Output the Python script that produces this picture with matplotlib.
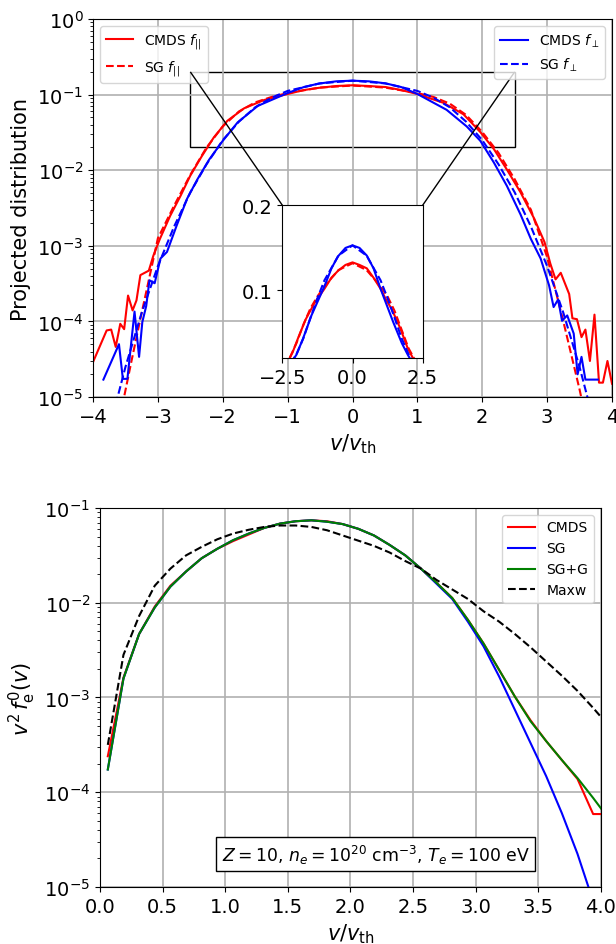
import numpy as np
import matplotlib
matplotlib.use('Agg')
import matplotlib.pyplot as plt
from mpl_toolkits.axes_grid1.inset_locator import mark_inset

# ---- top panel: projected distributions ----
x_par = [-4.0, -3.79, -3.72, -3.65, -3.58, -3.52, -3.46, -3.39, -3.33, -3.27, -3.14, -3.07,
         -2.97, -2.81, -2.65, -2.50, -2.32, -2.14, -1.93, -1.67, -1.36, -1.0, -0.75, -0.52,
         -0.25, 0.0, 0.25, 0.51, 0.75, 1.0, 1.2, 1.40, 1.71, 1.97, 2.18, 2.38, 2.59, 2.80,
         2.96, 3.05, 3.13, 3.21, 3.34, 3.39, 3.46, 3.53, 3.59, 3.66, 3.73, 3.80, 3.86, 3.93, 4.0]
f_par = [2.9e-5, 7.6e-5, 7.8e-5, 4.6e-5, 9.3e-5, 7.9e-5, 2.2e-4, 1.4e-4, 1.9e-4, 4.1e-4, 4.7e-4, 7.4e-4,
         1.23e-3, 2.5e-3, 4.6e-3, 8.5e-3, 1.55e-2, 2.7e-2, 4.5e-2, 6.6e-2, 8.5e-2, 0.102, 0.115, 0.123,
         0.130, 0.133, 0.130, 0.126, 0.115, 0.102, 0.089, 7.8e-2, 5.5e-2, 3.2e-2, 1.9e-2, 1.02e-2, 5.1e-3, 2.3e-3,
         1.12e-3, 5.8e-4, 3.6e-4, 4.4e-4, 2.3e-4, 1.1e-4, 1.07e-4, 6.2e-5, 7.8e-5, 3.0e-5, 1.23e-4, 1.55e-5, 1.55e-5, 3.0e-5, 1.5e-5]

x_perp = [-3.84, -3.60, -3.54, -3.47, -3.36, -3.29, -3.24, -3.18, -3.13, -3.05, -2.96, -2.86,
          -2.71, -2.55, -2.39, -2.21, -2.0, -1.77, -1.46, -1.0, -0.75, -0.52, -0.25, 0.0, 0.25,
          0.51, 0.75, 1.0, 1.45, 1.76, 1.97, 2.18, 2.38, 2.59, 2.75, 2.90, 3.03, 3.10, 3.17,
          3.23, 3.31, 3.41, 3.47, 3.53, 3.59, 3.78]
f_perp = [1.7e-5, 5.0e-5, 1.74e-5, 1.74e-5, 1.35e-4, 3.4e-5, 9.8e-5, 1.6e-4, 3.5e-4, 3.2e-4, 6.8e-4, 8.3e-4,
          1.86e-3, 4.2e-3, 7.6e-3, 1.38e-2, 2.45e-2, 4.3e-2, 7.1e-2, 0.105, 0.126, 0.140, 0.150, 0.153, 0.150,
          0.141, 0.126, 0.102, 6.3e-2, 3.8e-2, 2.45e-2, 1.26e-2, 6.2e-3, 2.6e-3, 1.23e-3, 6.8e-4, 3.0e-4, 1.55e-4, 1.95e-4,
          1.02e-4, 1.2e-4, 6.9e-5, 2.0e-5, 3.4e-5, 1.7e-5, 1.7e-5]

x_sg_par = [-3.55, -3.40, -3.25, -3.0, -2.75, -2.5, -2.25, -2.0, -1.75, -1.5, -1.25, -1.0, -0.5, 0.0,
            0.5, 1.0, 1.25, 1.5, 1.75, 2.0, 2.25, 2.5, 2.75, 3.0, 3.25, 3.5, 3.6]
sg_par = [7.6e-6, 3.2e-5, 1.3e-4, 1.26e-3, 3.4e-3, 8.7e-3, 2.0e-2, 3.8e-2, 6.0e-2, 7.9e-2, 9.3e-2, 0.105, 0.124, 0.132,
          0.124, 0.105, 0.093, 0.076, 0.054, 0.032, 0.017, 7.6e-3, 3.0e-3, 7.1e-4, 1.0e-4, 1.26e-5, 5e-6]

x_sg_perp = [-3.65, -3.5, -3.25, -3.0, -2.75, -2.5, -2.25, -2.0, -1.75, -1.5, -1.25, -1.0, -0.5, 0.0,
             0.5, 1.0, 1.25, 1.5, 1.75, 2.0, 2.25, 2.5, 2.75, 3.0, 3.25, 3.5, 3.65]
sg_perp = [8e-6, 2.5e-5, 1.3e-4, 5.4e-4, 1.8e-3, 5.1e-3, 1.2e-2, 2.5e-2, 4.4e-2, 6.8e-2, 9.1e-2, 0.112, 0.141, 0.153,
           0.141, 0.112, 0.091, 0.068, 0.044, 0.025, 1.2e-2, 5.1e-3, 1.8e-3, 5.4e-4, 1.3e-4, 2.5e-5, 8e-6]

# ---- bottom panel: v^2 f_e^0(v) (log10 values) ----
v_bins = [0.0625, 0.1875, 0.3125, 0.4375, 0.5625, 0.6875, 0.8125, 0.9375, 1.0625, 1.1875, 1.3125,
          1.4375, 1.5625, 1.6875, 1.8125, 1.9375, 2.0625, 2.1875, 2.3125, 2.4375, 2.5625, 2.6875,
          2.8125, 2.9375, 3.0625, 3.1875, 3.3125, 3.4375, 3.5625, 3.6875, 3.8125, 3.9375, 4.0625]
log_sgg = [-3.76, -2.80, -2.33, -2.05, -1.83, -1.67, -1.53, -1.43, -1.34, -1.27, -1.21,
           -1.165, -1.14, -1.13, -1.145, -1.17, -1.22, -1.29, -1.39, -1.50, -1.64, -1.79,
           -1.95, -2.18, -2.43, -2.71, -2.99, -3.25, -3.46, -3.66, -3.85, -4.06, -4.28]
log_cmds = [-3.62, -2.79, -2.33, -2.04, -1.82, -1.67, -1.53, -1.43, -1.35, -1.28, -1.21,
            -1.165, -1.14, -1.13, -1.14, -1.17, -1.22, -1.29, -1.39, -1.50, -1.64, -1.79,
            -1.95, -2.18, -2.43, -2.71, -2.99, -3.24, -3.46, -3.66, -3.86, -4.23, -4.23]
log_sg = [-3.76, -2.80, -2.33, -2.05, -1.83, -1.67, -1.53, -1.43, -1.34, -1.27, -1.21,
          -1.165, -1.14, -1.13, -1.145, -1.17, -1.22, -1.29, -1.39, -1.50, -1.64, -1.80,
          -1.96, -2.20, -2.46, -2.78, -3.13, -3.48, -3.83, -4.22, -4.65, -5.15, -5.70]
log_maxw = [-3.50, -2.55, -2.14, -1.82, -1.64, -1.50, -1.41, -1.33, -1.27, -1.23, -1.20,
            -1.185, -1.185, -1.20, -1.235, -1.29, -1.345, -1.40, -1.47, -1.56, -1.64, -1.76,
            -1.86, -1.96, -2.09, -2.20, -2.33, -2.47, -2.62, -2.77, -2.93, -3.11, -3.30]

fig = plt.figure(figsize=(6.16, 9.45), dpi=100)

ax1 = fig.add_axes([0.151, 0.5788, 0.8425, 0.40])
ax1.semilogy(x_par, f_par, 'r-', lw=1.5, label=r'CMDS $f_{||}$')
ax1.semilogy(x_sg_par, sg_par, 'r--', lw=1.5, label=r'SG $f_{||}$')
ax1.semilogy(x_perp, f_perp, 'b-', lw=1.5, label=r'CMDS $f_{\perp}$')
ax1.semilogy(x_sg_perp, sg_perp, 'b--', lw=1.5, label=r'SG $f_{\perp}$')
ax1.set_xlim(-4, 4)
ax1.set_ylim(1e-5, 1)
ax1.grid(True, lw=1.2)
ax1.tick_params(labelsize=14)
ax1.set_xlabel(r'$v/v_{\rm th}$', fontsize=15)
ax1.set_ylabel('Projected distribution', fontsize=15)
h, lab = ax1.get_legend_handles_labels()
leg1 = ax1.legend(h[:2], lab[:2], loc='upper left', fontsize=10)
ax1.add_artist(leg1)
ax1.legend(h[2:], lab[2:], loc='upper right', fontsize=10)

# zoomed inset on linear scale
axins = ax1.inset_axes([0.365, 0.102, 0.27, 0.405])
axins.plot(x_par, f_par, 'r-', lw=1.5)
axins.plot(x_sg_par, sg_par, 'r--', lw=1.5)
axins.plot(x_perp, f_perp, 'b-', lw=1.5)
axins.plot(x_sg_perp, sg_perp, 'b--', lw=1.5)
axins.set_xlim(-2.5, 2.5)
axins.set_ylim(0.02, 0.2)
axins.set_xticks([-2.5, 0.0, 2.5])
axins.set_yticks([0.1, 0.2])
axins.tick_params(labelsize=14)
mark_inset(ax1, axins, loc1=1, loc2=2, fc='none', ec='k', lw=1)

ax2 = fig.add_axes([0.1623, 0.0603, 0.8133, 0.4011])
ax2.semilogy(v_bins, 10**np.array(log_cmds), 'r-', lw=1.5, label='CMDS')
ax2.semilogy(v_bins, 10**np.array(log_sg), 'b-', lw=1.5, label='SG')
ax2.semilogy(v_bins, 10**np.array(log_sgg), 'g-', lw=1.5, label='SG+G')
ax2.semilogy(v_bins, 10**np.array(log_maxw), 'k--', lw=1.5, label='Maxw')
ax2.set_xlim(0, 4)
ax2.set_ylim(1e-5, 1e-1)
ax2.grid(True, lw=1.2)
ax2.tick_params(labelsize=14)
ax2.set_xlabel(r'$v/v_{\rm th}$', fontsize=15)
ax2.set_ylabel(r'$v^2\,f_{\rm e}^0(v)$', fontsize=15)
ax2.legend(loc='upper right', fontsize=10)
ax2.text(0.55, 0.087, r'$Z=10$, $n_e=10^{20}$ cm$^{-3}$, $T_e=100$ eV',
         transform=ax2.transAxes, ha='center', va='center', fontsize=12.4,
         bbox=dict(boxstyle='square', fc='w', ec='k'))

fig.savefig('out.png', dpi=100)
